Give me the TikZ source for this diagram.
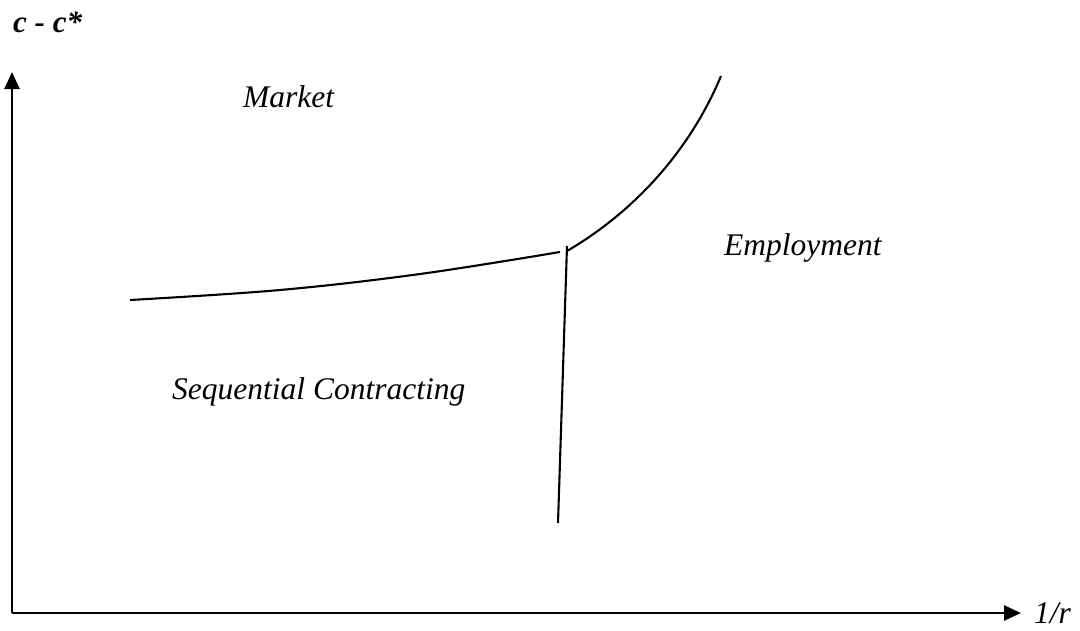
\documentclass[tikz,border=0pt]{standalone}
\usepackage{fontspec}
\setmainfont{Liberation Serif}
\usetikzlibrary{arrows.meta}
\begin{document}
\begin{tikzpicture}[x=1pt,y=-1pt,
  axis/.style={line width=2.6pt,-{Triangle[length=17pt,width=15pt]}},
  curve/.style={line width=2.1pt},
  lbl/.style={inner sep=0pt,anchor=base west,font=\fontsize{31.5}{36}\selectfont\itshape}]
\useasboundingbox (0,0) rectangle (1080,630);
\coordinate (O) at (12,613);
\coordinate (Ytop) at (12,72);
\coordinate (Xend) at (1021,613);
\draw[axis] (O) -- (Ytop);
\draw[axis] (O) -- (Xend);
\draw[curve] plot[smooth,tension=0.6] coordinates {(130,300) (280,290) (420,274) (560,252)};
\coordinate (Rstart) at (567,251);
\coordinate (Rend) at (721,76);
\draw[curve] (Rstart) .. controls (637,210) and (691,148) .. (Rend);
\coordinate (Vtop) at (567,246);
\coordinate (Vbot) at (558,523);
\draw[curve] (Vtop) -- (Vbot);
\node[lbl,font=\fontsize{31}{36}\selectfont\bfseries\itshape] (ylab) at (13,32) {c - c*};
\node[lbl] (xlab) at (1034,623) {1/r};
\node[lbl] (market) at (243,107) {Market};
\node[lbl] (employ) at (724,255) {Employment};
\node[lbl] (seq) at (172,399) {Sequential Contracting};
\end{tikzpicture}
\end{document}
